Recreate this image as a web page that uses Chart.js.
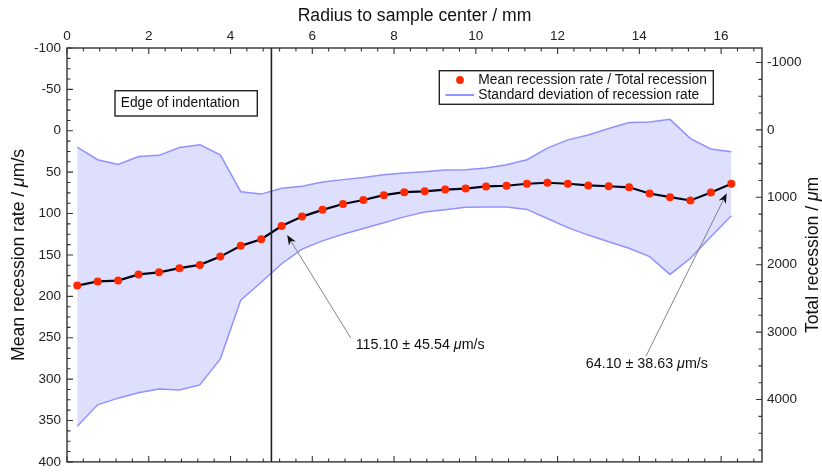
<!DOCTYPE html>
<html><head><meta charset="utf-8">
<script src="https://cdn.jsdelivr.net/npm/chart.js@4.4.1/dist/chart.umd.min.js"></script>
<style>html,body{margin:0;padding:0;background:#fff}#wrap{width:822px;height:476px;position:relative}</style>
</head><body><div id="wrap"><canvas id="c" width="822" height="476"></canvas></div>
<script>
// ---- data ----
const RADIUS_MM = [0.25,0.75,1.25,1.75,2.25,2.75,3.25,3.75,4.25,4.75,5.25,5.75,6.25,6.75,7.25,7.75,8.25,8.75,9.25,9.75,10.25,10.75,11.25,11.75,12.25,12.75,13.25,13.75,14.25,14.75,15.25,15.75,16.25];
const MEAN_RATE = [187,182,181,173.5,171,166,162,152,139,131,115.10,103.7,95.5,88.5,83.6,77.8,74.2,73.2,71,69.8,67.2,66.4,64,62.8,64,66,67,68.3,75.8,80.2,84.2,74.6,64.10];
const SD_EDGE_TOP = [19.8,35,40.8,31,29.7,20.2,17,29,73.6,76.5,69.56,67,62,59,56.5,53,51,49.5,47.5,47,45,41,35,21,11,5,-2.7,-10,-10.5,-13.8,9.5,22,25.47];
const SD_EDGE_BOTTOM = [357,331,323,316.5,312,313,307,275.5,204.5,183,160.64,143,133,125,118,111,104,98,95.5,92.5,92,92,95,106,117,126,134,142,152,173.5,154,128,102.73];
const X_TICKS = [0,2,4,6,8,10,12,14,16];
const Y_TICKS = [-100,-50,0,50,100,150,200,250,300,350,400];
const Y2_TICKS = [-1000,0,1000,2000,3000,4000];
const EDGE_X = 5;
const EDGE_LABEL = 'Edge of indentation';
const X_TITLE = 'Radius to sample center / mm';
const Y_TITLE = [['Mean recession rate / ',false],['\u03bc',true],['m/s',false]];
const Y2_TITLE = [['Total recession / ',false],['\u03bc',true],['m',false]];
const LEGEND_LABELS = ['Mean recession rate / Total recession','Standard deviation of recession rate'];
const CALLOUTS = [
  {x:5.25, mean:115.10, sd:45.54, tailX:6.94, tailY:250.2, textX:7.06, textY:258.6},
  {x:16.25, mean:64.10, sd:38.63, tailX:14.16, tailY:272.4, textX:12.69, textY:282.3}
];

const FONT = '"Liberation Sans", Arial, Helvetica, sans-serif';
const pts = arr => RADIUS_MM.map((x,i)=>({x, y:arr[i]}));

function drawRuns(ctx, runs, x, y, size){
  let cx = x;
  for (const [t,it] of runs){
    ctx.font = (it?'italic ':'') + size + 'px ' + FONT;
    ctx.fillText(t, cx, y);
    cx += ctx.measureText(t).width;
  }
}
function runsWidth(ctx, runs, size){
  let w=0;
  for (const [t,it] of runs){ ctx.font=(it?'italic ':'')+size+'px '+FONT; w+=ctx.measureText(t).width; }
  return w;
}

const overlay = {
  id:'overlay',
  afterDatasetsDraw(chart){
    const {ctx, chartArea:a, scales:{x,y}} = chart;
    ctx.save();
    const ex = x.getPixelForValue(EDGE_X);
    ctx.strokeStyle='#222'; ctx.lineWidth=1.6;
    ctx.beginPath(); ctx.moveTo(ex,a.top); ctx.lineTo(ex,a.bottom); ctx.stroke();
    for (const c of CALLOUTS){
      const px = x.getPixelForValue(c.x), py = y.getPixelForValue(c.mean);
      const tx = x.getPixelForValue(c.tailX), ty = y.getPixelForValue(c.tailY);
      const dx = tx-px, dy = ty-py, L = Math.hypot(dx,dy), ux=dx/L, uy=dy/L;
      const hx = px+ux*10.5, hy = py+uy*10.5;
      ctx.strokeStyle='#777'; ctx.lineWidth=0.9;
      ctx.beginPath(); ctx.moveTo(tx,ty); ctx.lineTo(hx+ux*6,hy+uy*6); ctx.stroke();
      const len=10, hw=4;
      const bx = hx+ux*len, by = hy+uy*len;
      ctx.fillStyle='#111';
      ctx.beginPath();
      ctx.moveTo(hx,hy);
      ctx.lineTo(bx - uy*hw, by + ux*hw);
      ctx.lineTo(hx+ux*len*0.7, hy+uy*len*0.7);
      ctx.lineTo(bx + uy*hw, by - ux*hw);
      ctx.closePath(); ctx.fill();
      ctx.fillStyle='#111'; ctx.textBaseline='middle'; ctx.textAlign='left';
      drawRuns(ctx, [[c.mean.toFixed(2)+' \u00b1 '+c.sd.toFixed(2)+' ',false],['\u03bc',true],['m/s',false]],
        x.getPixelForValue(c.textX), y.getPixelForValue(c.textY), 14.3);
    }
    ctx.restore();
  },
  afterDraw(chart){
    const {ctx, chartArea:a, scales:{x,y,y2}} = chart;
    ctx.save();
    ctx.strokeStyle='#333'; ctx.lineWidth=1.4;
    ctx.strokeRect(a.left,a.top,a.right-a.left,a.bottom-a.top);
    ctx.lineWidth=1.1; ctx.strokeStyle='#333';
    ctx.beginPath();
    for (let v=0; v<=17.0001; v+=0.4){
      const major = Math.abs(v/2 - Math.round(v/2))<1e-6;
      const p = x.getPixelForValue(v), l = major?6:3.5;
      ctx.moveTo(p,a.top); ctx.lineTo(p,a.top+l);
      ctx.moveTo(p,a.bottom); ctx.lineTo(p,a.bottom-l);
    }
    for (let v=-100; v<=400; v+=12.5){
      const major = v%50===0;
      const p = y.getPixelForValue(v), l = major?6:3.5;
      ctx.moveTo(a.left,p); ctx.lineTo(a.left+l,p);
    }
    for (let v=-1000; v<=4900; v+=250){
      const major = v%1000===0;
      const p = y2.getPixelForValue(v), l = major?6:3.5;
      ctx.moveTo(a.right,p); ctx.lineTo(a.right-l,p);
    }
    ctx.stroke();
    ctx.fillStyle='#111'; ctx.textBaseline='middle'; ctx.textAlign='left';
    ctx.font='17.6px '+FONT;
    const tw = ctx.measureText(X_TITLE).width;
    ctx.fillText(X_TITLE, (a.left+a.right)/2 - tw/2, 16);
    const cy = (a.top+a.bottom)/2;
    ctx.save(); ctx.translate(19, cy); ctx.rotate(-Math.PI/2);
    drawRuns(ctx, Y_TITLE, -runsWidth(ctx,Y_TITLE,17.6)/2, 0, 17.6); ctx.restore();
    ctx.save(); ctx.translate(813, cy); ctx.rotate(-Math.PI/2);
    drawRuns(ctx, Y2_TITLE, -runsWidth(ctx,Y2_TITLE,17.6)/2, 0, 17.6); ctx.restore();
    ctx.strokeStyle='#222'; ctx.lineWidth=1.4;
    ctx.strokeRect(115,90.7,142.3,25.3);
    ctx.font='13.8px '+FONT; ctx.fillText(EDGE_LABEL, 120.7, 103.5);
    ctx.strokeRect(439.3,70.7,274,33.6);
    ctx.fillStyle='#ff2a00'; ctx.beginPath(); ctx.arc(460,80,3.9,0,Math.PI*2); ctx.fill();
    ctx.strokeStyle='#6f6fff'; ctx.lineWidth=1.5;
    ctx.beginPath(); ctx.moveTo(445.5,95); ctx.lineTo(474,95); ctx.stroke();
    ctx.fillStyle='#111';
    ctx.font='13.8px '+FONT;
    ctx.fillText(LEGEND_LABELS[0], 478.3, 79.8);
    ctx.fillText(LEGEND_LABELS[1], 478.3, 94.8);
    ctx.restore();
  }
};

const tickFont = {family: FONT, size: 13.5};
const plain = v => String(v);
new Chart(document.getElementById('c'), {
  type:'line',
  data:{datasets:[
    {label:'sdTop', data:pts(SD_EDGE_TOP), borderColor:'rgba(140,140,255,0.95)', borderWidth:1.5,
     backgroundColor:'rgba(222,222,253,1)', fill:'+1', pointRadius:0, tension:0, order:2, yAxisID:'y'},
    {label:'sdBottom', data:pts(SD_EDGE_BOTTOM), borderColor:'rgba(140,140,255,0.95)', borderWidth:1.5,
     fill:false, pointRadius:0, tension:0, order:3, yAxisID:'y'},
    {label:'mean', data:pts(MEAN_RATE), borderColor:'#050518', borderWidth:2.2, fill:false, tension:0,
     pointRadius:4, pointBackgroundColor:'#ff2a00', pointBorderWidth:0, order:0, yAxisID:'y'}
  ]},
  options:{
    responsive:false, animation:false, devicePixelRatio:1,
    layout:{padding:{bottom:7, left:0, right:0, top:0}},
    plugins:{legend:{display:false}, tooltip:{enabled:false}, filler:{drawTime:'beforeDatasetsDraw'}},
    scales:{
      x:{type:'linear', position:'top', min:0, max:17,
        afterBuildTicks:s=>{s.ticks = X_TICKS.map(v=>({value:v}));},
        afterFit:s=>{s.height=48;},
        grid:{display:false, drawTicks:false}, border:{display:false},
        ticks:{font:tickFont, color:'#222', padding:4, maxRotation:0, autoSkip:false, callback:plain}},
      y:{type:'linear', position:'left', reverse:true, min:-100, max:400,
        afterBuildTicks:s=>{s.ticks = Y_TICKS.map(v=>({value:v}));},
        afterFit:s=>{s.width=67;},
        grid:{display:false, drawTicks:false}, border:{display:false},
        ticks:{font:tickFont, color:'#222', padding:6, autoSkip:false, callback:plain}},
      y2:{type:'linear', position:'right', reverse:true, min:-1215, max:4925,
        afterBuildTicks:s=>{s.ticks = Y2_TICKS.map(v=>({value:v}));},
        afterFit:s=>{s.width=60;},
        grid:{display:false, drawTicks:false}, border:{display:false},
        ticks:{font:tickFont, color:'#222', padding:5, autoSkip:false, callback:plain}}
    }
  },
  plugins:[overlay]
});
</script></body></html>
